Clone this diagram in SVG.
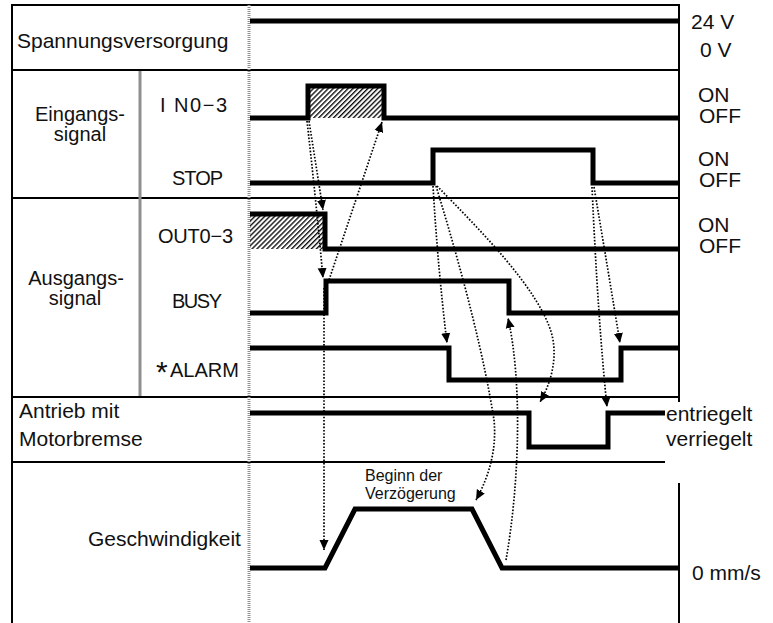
<svg xmlns="http://www.w3.org/2000/svg" width="773" height="623" viewBox="0 0 773 623">
<style>
.lbl{font-family:"Liberation Sans",Arial,sans-serif;font-size:21px;fill:#111}
.lbl2{font-family:"Liberation Sans",Arial,sans-serif;font-size:20px;fill:#111}
.sm{font-family:"Liberation Sans",Arial,sans-serif;font-size:16px;fill:#111}
.sig{font-family:"Liberation Sans",Arial,sans-serif;font-size:20px;fill:#111}
.wave{fill:none;stroke:#000;stroke-width:5;stroke-linejoin:miter;stroke-linecap:butt}
.arr{fill:none;stroke:#000;stroke-width:1.7;stroke-dasharray:1.6 1.7;marker-end:url(#ah)}
.frame{stroke:#000;stroke-width:2;fill:none}
.grey{stroke:#8f8f8f;stroke-width:3;fill:none}
</style>
<defs>
<marker id="ah" viewBox="0 0 10 10" refX="10" refY="5" markerWidth="10" markerHeight="10" markerUnits="userSpaceOnUse" orient="auto">
<path d="M0,0.5 L10,5 L0,9.5 z" fill="#000"/>
</marker>
<pattern id="hatch" width="3.5" height="3.5" patternUnits="userSpaceOnUse" patternTransform="rotate(45)">
<line x1="0.7" y1="0" x2="0.7" y2="3.5" stroke="#000" stroke-width="1.3"/>
</pattern>
</defs>
<rect width="773" height="623" fill="#fff"/>
<g id="frame">
<line class="frame" x1="12" y1="5" x2="679" y2="5" stroke="#333"/>
<line class="frame" x1="12" y1="4" x2="12" y2="623" stroke-width="3"/>
<line class="frame" x1="679" y1="4" x2="679" y2="402"/>
<line class="frame" x1="679" y1="483" x2="679" y2="623"/>
<line class="frame" x1="12" y1="70" x2="679" y2="70"/>
<line class="frame" x1="12" y1="198" x2="679" y2="198" stroke="#555"/>
<line class="frame" x1="12" y1="397" x2="679" y2="397" stroke="#222"/>
<line class="frame" x1="12" y1="462" x2="665" y2="462" stroke="#222"/>
<line class="grey" x1="140" y1="71" x2="140" y2="396"/>
<line class="grey" x1="249" y1="5" x2="249" y2="623" stroke-dasharray="1 1"/>
</g>
<g id="row-power">
<text class="lbl" x="17" y="48">Spannungsversorgung</text>
<polyline class="wave" points="250,21 679,21"/>
<text class="lbl" x="691" y="29">24 V</text>
<text class="lbl" x="700" y="57">0 V</text>
</g>
<g id="row-input">
<text class="lbl2" x="80" y="121" text-anchor="middle">Eingangs-</text>
<text class="lbl2" x="80" y="141" text-anchor="middle">signal</text>
<text class="sig" x="160" y="112" textLength="67">I N0−3</text>
<text class="sig" x="172" y="185" textLength="51">STOP</text>
<rect x="308" y="86" width="76" height="32" fill="url(#hatch)"/>
<polyline class="wave" points="250,118 308,118 308,86 384,86 384,118 679,118"/>
<polyline class="wave" points="250,183 433,183 433,150 593,150 593,183 679,183"/>
<text class="lbl" x="698" y="102">ON</text>
<text class="lbl" x="699" y="123">OFF</text>
<text class="lbl" x="698" y="166">ON</text>
<text class="lbl" x="699" y="187">OFF</text>
</g>
<g id="row-output">
<text class="lbl2" x="76" y="285" text-anchor="middle">Ausgangs-</text>
<text class="lbl2" x="75" y="305" text-anchor="middle">signal</text>
<text class="sig" x="158" y="243" textLength="75">OUT0−3</text>
<text class="sig" x="172" y="308" textLength="50">BUSY</text>
<text class="sig" x="156" y="377"><tspan font-size="30" dy="5">*</tspan><tspan x="170" dy="-5" textLength="69">ALARM</tspan></text>
<rect x="250" y="214" width="75" height="35" fill="url(#hatch)"/>
<polyline class="wave" points="250,214 325,214 325,249 679,249"/>
<polyline class="wave" points="250,313 326,313 326,281 509,281 509,313 679,313"/>
<polyline class="wave" points="250,348 449,348 449,380 621,380 621,348 679,348"/>
<text class="lbl" x="698" y="232">ON</text>
<text class="lbl" x="699" y="253">OFF</text>
</g>
<g id="row-brake">
<text class="lbl" x="19" y="418">Antrieb mit</text>
<text class="lbl" x="19" y="446">Motorbremse</text>
<polyline class="wave" points="250,413 529,413 529,447 608,447 608,413 665,413"/>
<text class="lbl" x="666" y="421">entriegelt</text>
<text class="lbl" x="666" y="446">verriegelt</text>
</g>
<g id="row-speed">
<text class="lbl" x="88" y="546">Geschwindigkeit</text>
<polyline class="wave" points="250,568 325,568 355,509 472,509 502,568 679,568"/>
<text class="sm" x="365" y="481">Beginn der</text>
<text class="sm" x="365" y="499">Verzögerung</text>
<text class="lbl" x="692" y="580">0 mm/s</text>
</g>
<g id="connectors">
<path class="arr" d="M309,121 L323,210"/>
<path class="arr" d="M307,121 Q316,200 323,278"/>
<path class="arr" d="M328,283 L382,122"/>
<path class="arr" d="M324,288 L324,550"/>
<path class="arr" d="M433,186 Q438,270 447,343"/>
<path class="arr" d="M436,186 Q480,330 494,420 Q498,460 476,500"/>
<path class="arr" d="M437,186 C480,230 540,290 552,335 C558,360 550,385 540,402"/>
<path class="arr" d="M506,560 C520,480 522,380 508,318"/>
<path class="arr" d="M594,187 Q608,270 620,343"/>
<path class="arr" d="M592,187 Q598,320 607,407"/>
</g>
</svg>
